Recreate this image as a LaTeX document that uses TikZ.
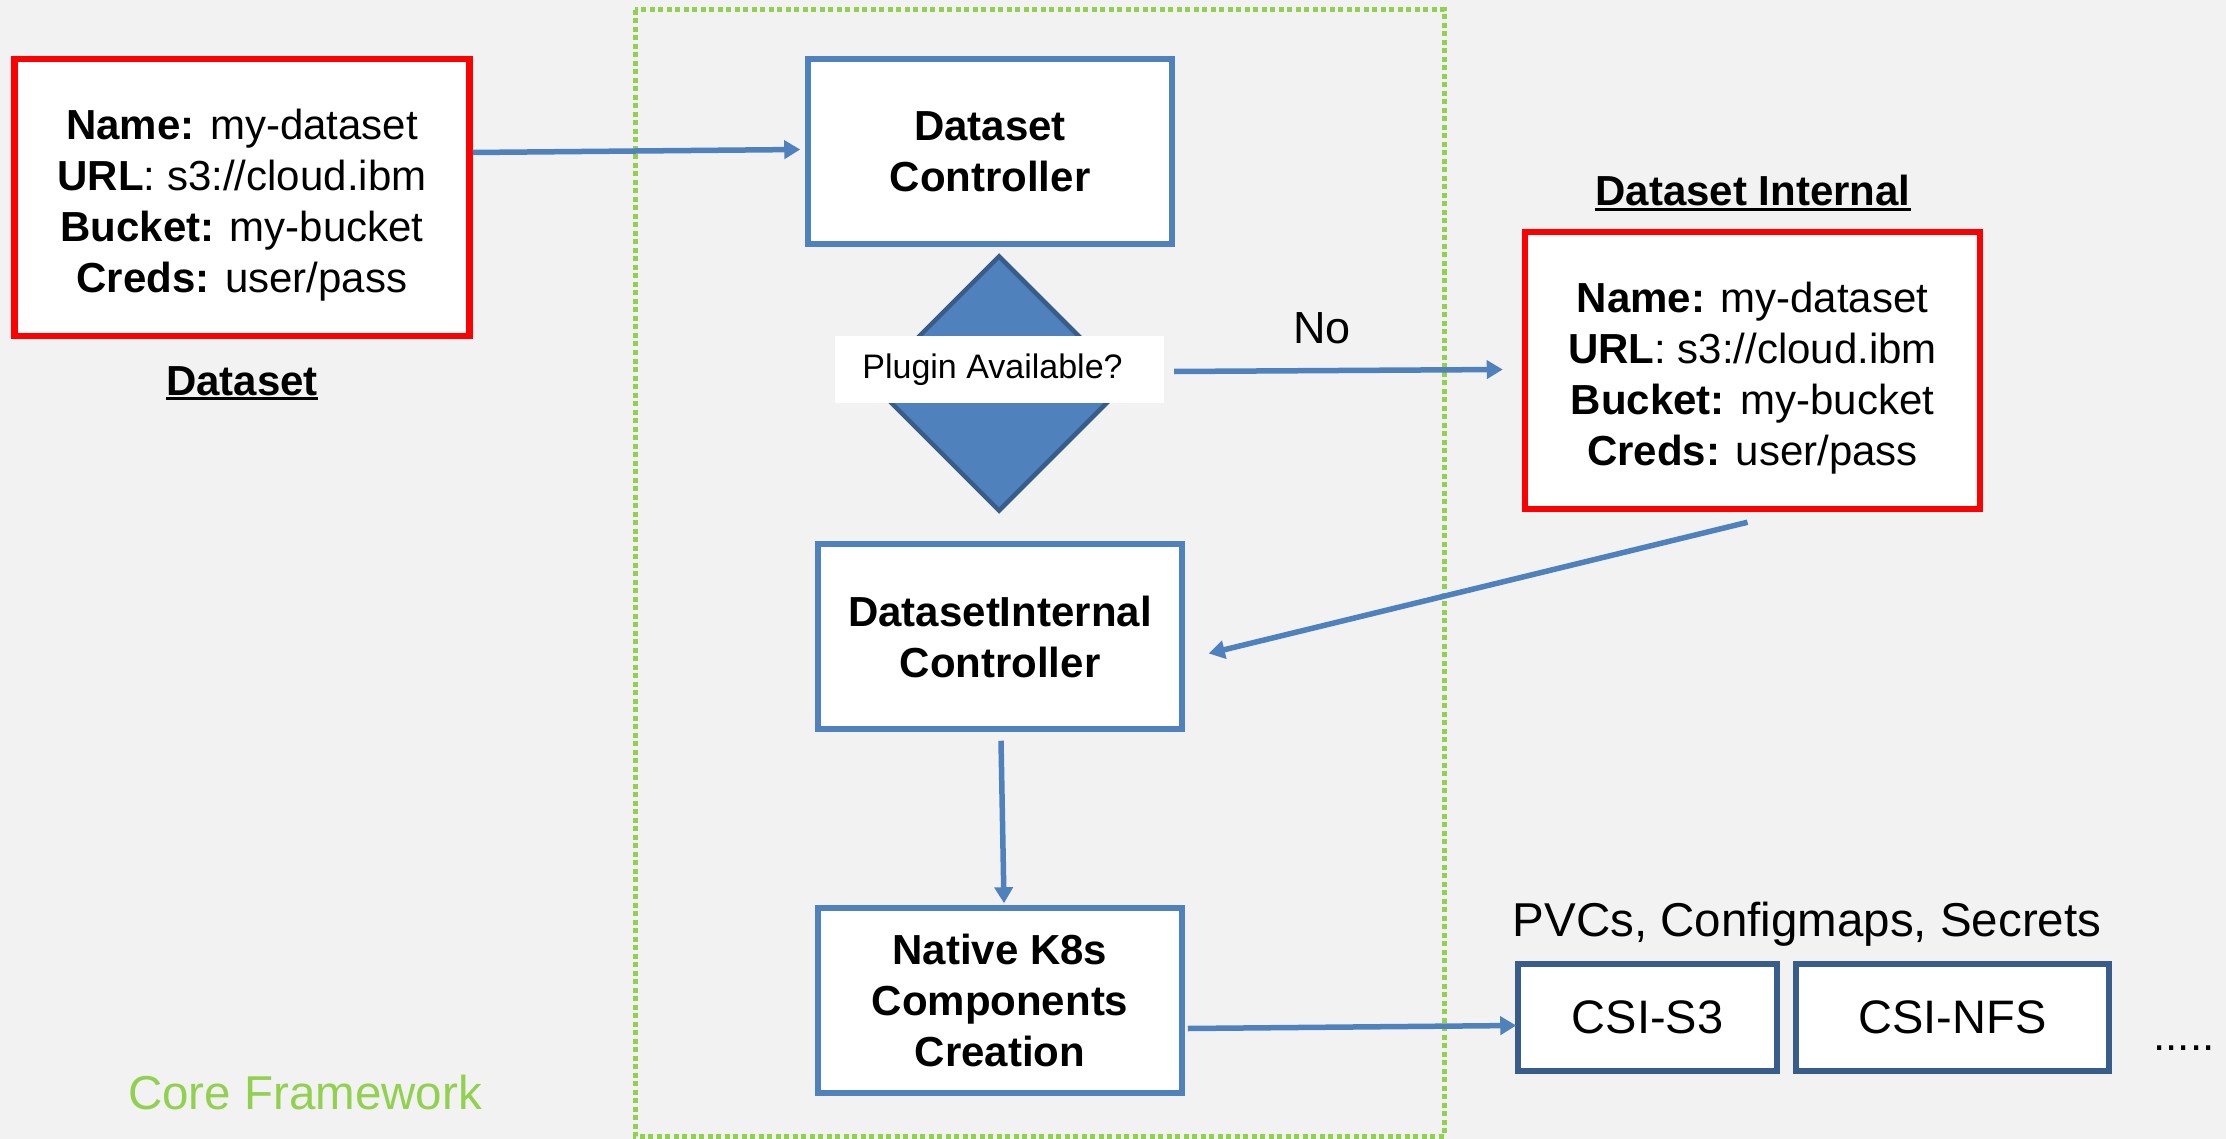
\documentclass[tikz,border=0pt]{standalone}
\usepackage{fontspec}
\setmainfont{Liberation Sans}
\usetikzlibrary{arrows.meta,shapes.geometric}
\definecolor{bgc}{HTML}{F2F2F2}
\definecolor{boxblue}{HTML}{4F81BD}
\definecolor{darkblue}{HTML}{385D8A}
\definecolor{fwgreen}{HTML}{92D050}
\newcommand{\myul}[1]{\setbox0\hbox{#1}\rlap{\rule[-5pt]{\wd0}{3pt}}\box0}
\tikzset{
  redbox/.style={draw=red, line width=6.5pt, fill=white, minimum width=455pt, minimum height=277pt, inner sep=0pt},
  redtext/.style={align=center, inner sep=0pt, font=\fontsize{42}{51}\selectfont},
  ctrlbox/.style={draw=boxblue, line width=5.5pt, fill=white, minimum width=364pt, minimum height=185pt, align=center, inner sep=0pt, font=\fontsize{42}{51}\selectfont\bfseries},
  csibox/.style={draw=darkblue, line width=5.5pt, fill=white, minimum height=107pt, inner sep=0pt, font=\fontsize{47}{56}\selectfont},
  flow/.style={draw=boxblue, line width=5.5pt, -{Triangle[length=16pt,width=18pt]}},
  lbl/.style={inner sep=0pt, anchor=base},
}
\begin{document}
\begin{tikzpicture}[x=1pt,y=-1pt]
\fill[bgc] (0,0) rectangle (2226,1139);
\useasboundingbox (0,0) rectangle (2226,1139);
% framework frame
\draw[fwgreen, line width=5pt, dash pattern=on 5pt off 3.5pt] (635,10) rectangle (1444,1136);
\node[lbl, anchor=base west, text=fwgreen, font=\fontsize{47.5}{56}\selectfont] (core) at (128,1109) {Core Framework};
% dataset
\node[redbox] (ds) at (242,197.5) {};
\node[redtext] (dstext) at ([yshift=-8pt]ds.center) {\textbf{Name:} my-dataset\\\textbf{URL}: s3://cloud.ibm\\\textbf{Bucket:} my-bucket\\\textbf{Creds:} user/pass};
\node[lbl, font=\fontsize{42}{50}\selectfont\bfseries] (dslbl) at (242,395) {\myul{Dataset}};
% dataset controller
\node[ctrlbox] (dc) at (990,151.5) {Dataset\\Controller};
% decision
\node[diamond, aspect=1, draw=darkblue, fill=boxblue, line width=4.5pt, minimum size=256pt, inner sep=0pt] (dec) at (999,383.5) {};
\node[fill=white, minimum width=329pt, minimum height=67pt, inner sep=0pt, font=\fontsize{34}{40}\selectfont] (pl) at (999.5,369.5) {\hspace*{-14pt}Plugin Available?};
% dataset internal
\node[lbl, font=\fontsize{42}{50}\selectfont\bfseries] (dilbl) at (1753,206) {\myul{Dataset Internal}};
\node[redbox] (di) at (1752.5,370.5) {};
\node[redtext] (ditext) at ([yshift=-8pt]di.center) {\textbf{Name:} my-dataset\\\textbf{URL}: s3://cloud.ibm\\\textbf{Bucket:} my-bucket\\\textbf{Creds:} user/pass};
\node[lbl, font=\fontsize{45}{54}\selectfont] (no) at (1322,344) {No};
% internal controller
\node[ctrlbox] (dic) at (1000,636.5) {DatasetInternal\\Controller};
% native
\node[ctrlbox] (nk) at (1000,1000.5) {Native K8s\\Components\\Creation};
% csi
\node[lbl, font=\fontsize{47.5}{56}\selectfont] (pvc) at (1807,936) {PVCs, Configmaps, Secrets};
\node[csibox, minimum width=259pt] (s3) at (1647.5,1017.5) {CSI-S3};
\node[csibox, minimum width=313pt] (nfs) at (1952.5,1017.5) {CSI-NFS};
\node[lbl, font=\fontsize{44}{50}\selectfont] (dots) at (2184,1050) {.....};
% connectors
\draw[flow] ([yshift=45pt]ds.east) -- ([yshift=2pt,xshift=-5pt]dc.west);
\draw[flow] ([xshift=10pt,yshift=-2pt]pl.east) -- ([xshift=-19pt,yshift=1pt]di.west);
\draw[flow] ([xshift=-5pt,yshift=-10pt]di.south) -- ([xshift=24pt,yshift=-17pt]dic.east);
\draw[flow] ([xshift=1pt,yshift=-9pt]dic.south) -- ([xshift=4pt,yshift=2pt]nk.north);
\draw[flow] ([xshift=3pt,yshift=-28pt]nk.east) -- ([xshift=1pt,yshift=-8pt]s3.west);
\end{tikzpicture}
\end{document}
